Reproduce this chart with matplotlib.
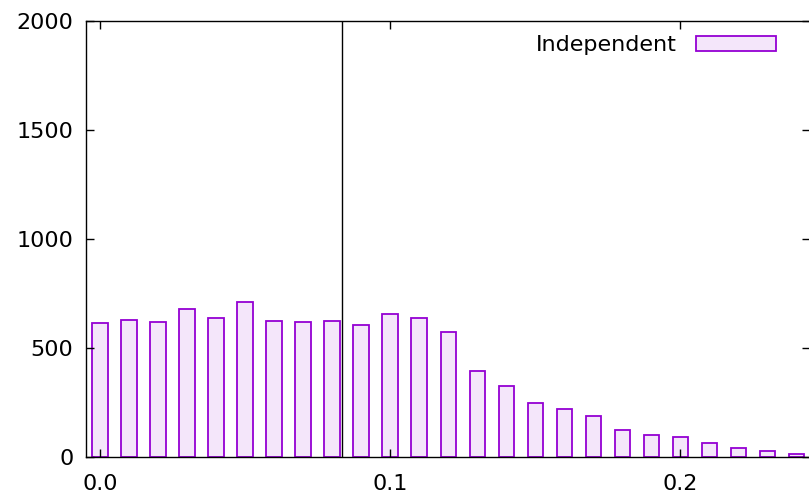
import matplotlib.pyplot as plt
import numpy as np

plt.rcParams['font.family'] = ['DejaVu Sans']

# Histogram data (bin starts and counts)
bins = np.round(np.arange(0.0, 0.25, 0.01), 2)
counts = [613, 628, 619, 677, 639, 710, 622, 618, 624, 605,
          654, 639, 575, 393, 327, 248, 219, 190, 125, 99,
          92, 63, 43, 29, 12]
bar_width = 0.0052
marker_x = 1 / 12

x_ticks = [0.0, 0.1, 0.2]
x_tick_labels = ['0.0', '0.1', '0.2']
y_ticks = [0, 500, 1000, 1500, 2000]

edge = '#9400d3'
fill = '#f4e6fa'

fig = plt.figure(figsize=(8.09, 4.96), dpi=100)
ax = fig.add_axes([86 / 809, 39 / 496, 724 / 809, 436 / 496])

ax.bar(bins, counts, width=bar_width, color=fill, edgecolor=edge,
       linewidth=1.3, label='Independent')
ax.axvline(marker_x, color='black', linewidth=1.0)

ax.set_xlim(-0.00483, 0.2448)
ax.set_ylim(0, 2000)
ax.set_xticks(x_ticks)
ax.set_xticklabels(x_tick_labels)
ax.set_yticks(y_ticks)

ax.tick_params(direction='in', length=5.8, width=1.0, labelsize=16,
               top=True, right=True, pad=9)
ax.tick_params(axis='x', pad=12)
for s in ax.spines.values():
    s.set_linewidth(1.0)

ax.legend(loc='upper right', bbox_to_anchor=(772 / 810, 0.967),
          markerfirst=False, frameon=False, fontsize=16,
          handlelength=3.6, handleheight=0.7, handletextpad=0.85,
          borderpad=0, borderaxespad=0)

plt.savefig('out.png', dpi=100)
